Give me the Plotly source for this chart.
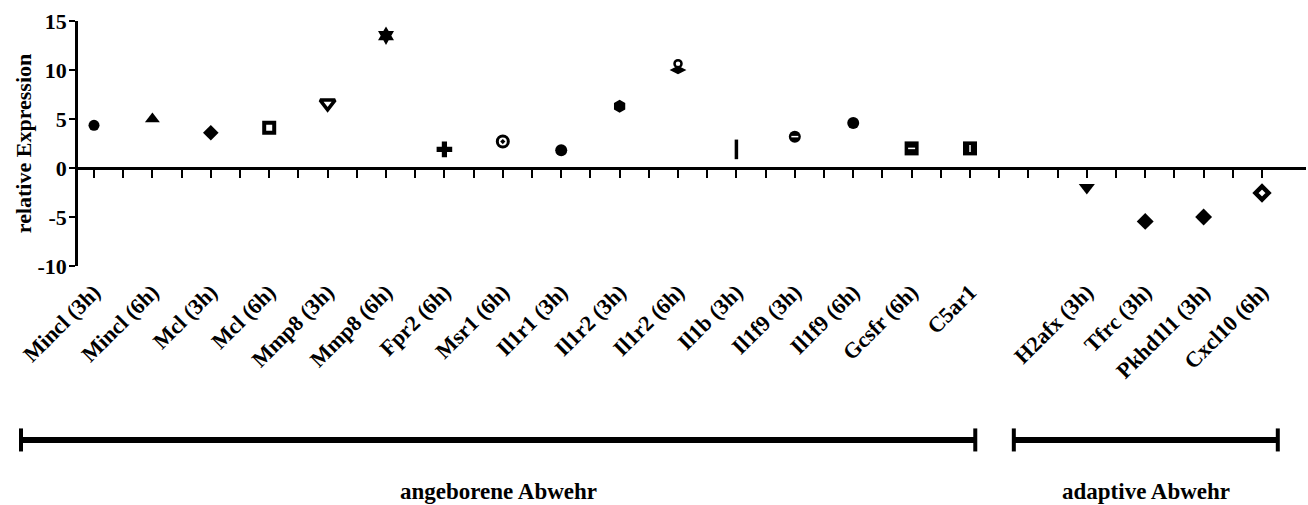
import plotly.graph_objects as go

# ---------------- data ----------------
categories = ["Mincl (3h)", "Mincl (6h)", "Mcl (3h)", "Mcl (6h)", "Mmp8 (3h)", "Mmp8 (6h)",
              "Fpr2 (6h)", "Msr1 (6h)", "Il1r1 (3h)", "Il1r2 (3h)", "Il1r2 (6h)", "Il1b (3h)",
              "Il1f9 (3h)", "Il1f9 (6h)", "Gcsfr (6h)", "C5ar1", "",
              "H2afx (3h)", "Tfrc (3h)", "Pkhd1l1 (3h)", "Cxcl10 (6h)"]
expression = [4.35, 5.0, 3.6, 4.1, 6.6, 13.5,
              1.9, 2.7, 1.8, 6.3, 10.0, 1.9,
              3.2, 4.6, 2.0, 2.0, None,
              -2.0, -5.45, -5.0, -2.55]
extra_categories = ["Il1r2 (6h)"]
extra_expression = [10.65]

group_names = ["angeborene Abwehr", "adaptive Abwehr"]
group_first = ["Mincl (3h)", "H2afx (3h)"]
group_last = ["C5ar1", "Cxcl10 (6h)"]

y_ticks = [-10, -5, 0, 5, 10, 15]

# ---------------- styles ----------------
symbols = ["circle", "triangle-up", "diamond", "square-open", "triangle-down-open", "hexagram",
           "cross", "circle-open-dot", "circle", "hexagon", "diamond-wide", "line-ns",
           "circle", "circle", "square", "square", "circle",
           "triangle-down", "diamond", "diamond", "diamond-open"]
sizes = [11, 13, 12, 10, 13, 14, 13, 11, 12, 13, 12, 14, 12, 12, 14, 14, 0, 14, 13, 13, 10]
line_widths = [0, 0, 0, 4, 3.5, 0, 0, 3, 0, 0, 0, 3.5, 0, 0, 0, 0, 0, 0, 0, 0, 4.5]
detail_symbols = {"Il1f9 (3h)": "line-ew", "Gcsfr (6h)": "line-ew", "C5ar1": "line-ns"}

FONT = "Liberation Serif"
xmin, xmax = -0.274, 20.753
bracket_pad_left = 1.25
bracket_pad_right = [0.09, 0.27]

xpos = list(range(len(categories)))
idx = {c: i for i, c in enumerate(categories) if c}

fig = go.Figure()

fig.add_trace(go.Scatter(
    x=xpos, y=expression, mode="markers",
    marker=dict(symbol=symbols, size=sizes, color="#000000", opacity=1,
                line=dict(color="#000000", width=line_widths)),
    hoverinfo="skip", showlegend=False))

# white inner details drawn on the same data points
dx = [idx[c] for c in detail_symbols]
dy = [expression[idx[c]] for c in detail_symbols]
fig.add_trace(go.Scatter(
    x=dx, y=dy, mode="markers",
    marker=dict(symbol=list(detail_symbols.values()), size=5, color="white", opacity=1,
                line=dict(color="white", width=1.5)),
    hoverinfo="skip", showlegend=False))

# extra point (second symbol at Il1r2 (6h))
fig.add_trace(go.Scatter(
    x=[idx[c] for c in extra_categories], y=extra_expression, mode="markers",
    marker=dict(symbol="circle-open", size=7, color="#000000", opacity=1,
                line=dict(color="#000000", width=2.5)),
    hoverinfo="skip", showlegend=False))

# invisible trace so the zero-line axis (x2) exists
fig.add_trace(go.Scatter(x=[0], y=[0], xaxis="x2", mode="markers",
                         marker=dict(opacity=0), hoverinfo="skip", showlegend=False))

ylo, yhi = y_ticks[0], y_ticks[-1]
zero_pos = (0 - ylo) / (yhi - ylo)

fig.update_layout(
    template="none",
    width=1308, height=505,
    margin=dict(l=78, r=2, t=21, b=239, autoexpand=False),
    plot_bgcolor="white", paper_bgcolor="white",
    font=dict(family=FONT, color="black"),
    xaxis=dict(range=[xmin, xmax], tickmode="array", tickvals=xpos, ticktext=categories,
               tickangle=-45, ticks="", showline=False, showgrid=False, zeroline=False,
               ticklabelstandoff=8,
               tickfont=dict(family=FONT, size=22, weight="bold", color="black")),
    xaxis2=dict(range=[xmin, xmax], overlaying="x", anchor="free", position=zero_pos,
                side="bottom", tickmode="array",
                tickvals=[i / 2 for i in range(0, 2 * len(categories) - 1)],
                ticks="outside", ticklen=8, tickwidth=2, tickcolor="black",
                showline=True, linewidth=2.5, linecolor="black",
                showticklabels=False, showgrid=False, zeroline=False),
    yaxis=dict(range=[ylo, yhi], tickmode="array", tickvals=y_ticks,
               ticktext=[str(v) for v in y_ticks],
               ticks="outside", ticklen=6, tickwidth=2, tickcolor="black",
               showline=True, linewidth=2.5, linecolor="black",
               showgrid=False, zeroline=False, ticklabelstandoff=-2,
               tickfont=dict(family=FONT, size=22, weight="bold", color="black"),
               title=dict(text="relative Expression", standoff=0,
                          font=dict(family=FONT, size=22, weight="bold", color="black"))),
)

def xp(i):
    return (i - xmin) / (xmax - xmin)

bar_y = -0.71
cap_h = 0.047
label_y = -0.922
for k, name in enumerate(group_names):
    a = xp(idx[group_first[k]] - bracket_pad_left)
    b = xp(idx[group_last[k]] + bracket_pad_right[k])
    fig.add_shape(type="line", xref="paper", yref="paper", x0=a, x1=b, y0=bar_y, y1=bar_y,
                  line=dict(color="black", width=6))
    for xe in (a, b):
        fig.add_shape(type="line", xref="paper", yref="paper", x0=xe, x1=xe,
                      y0=bar_y - cap_h, y1=bar_y + cap_h, line=dict(color="black", width=4))
    fig.add_annotation(text=name, xref="paper", yref="paper", x=(a + b) / 2, y=label_y,
                       showarrow=False, xanchor="center", yanchor="middle",
                       font=dict(family=FONT, size=23, weight="bold", color="black"))

fig.write_html("out.html")
